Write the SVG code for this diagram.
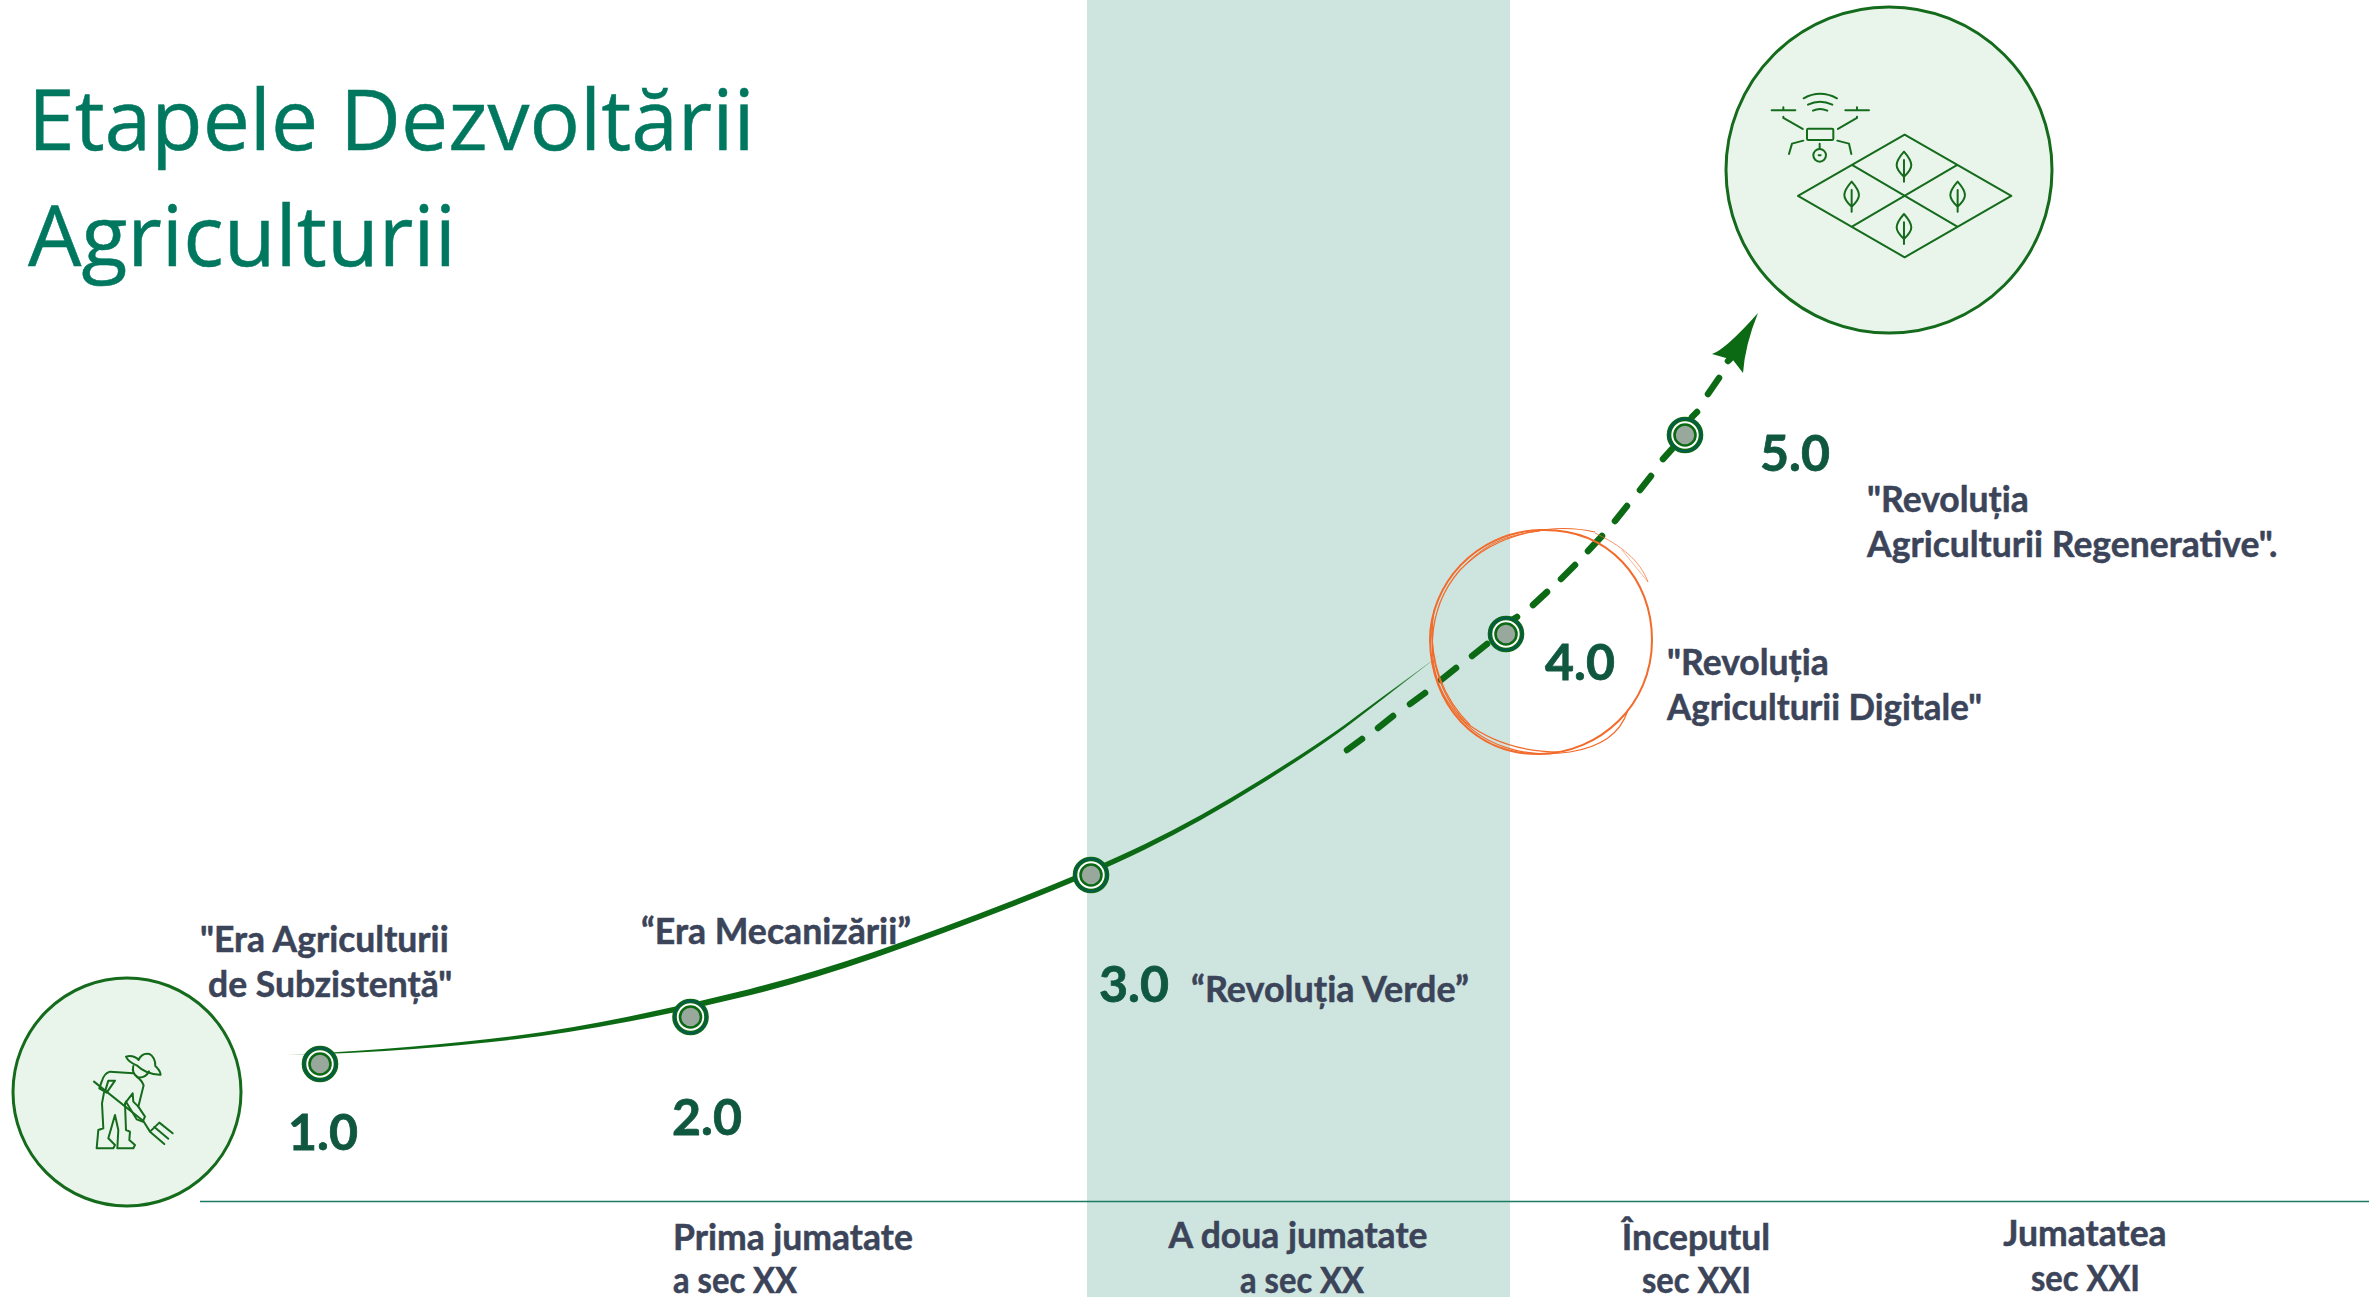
<svg xmlns="http://www.w3.org/2000/svg" width="2369" height="1297" viewBox="0 0 2369 1297">
<style>
.title{font-family:"Open Sans","Noto Sans",sans-serif;font-size:84px;fill:#00775f;stroke:#00775f;stroke-width:.5}
.lab{font-family:"Lato","Noto Sans",sans-serif;font-weight:700;font-size:35.500px;fill:#3b4459;stroke:#3b4459;stroke-width:.5}
.num{font-family:"Lato","Noto Sans",sans-serif;font-weight:700;font-size:50px;fill:#10573f;stroke:#10573f;stroke-width:.8}
.ic{fill:none;stroke:#156b1c;stroke-linecap:round;stroke-linejoin:round;stroke-width:6}
.disc{fill:#e9f5eb;stroke:#156b1c;stroke-width:3}
.o{fill:none;stroke:#f26b2b}
</style>
<defs>
<linearGradient id="fade" gradientUnits="userSpaceOnUse" x1="284" y1="0" x2="1441" y2="0">
<stop offset="0" stop-color="#0c6a14" stop-opacity=".15"/>
<stop offset=".05" stop-color="#0c6a14"/>
<stop offset=".95" stop-color="#0c6a14"/>
<stop offset="1" stop-color="#0c6a14" stop-opacity=".4"/>
</linearGradient>
<g id="dot">
<circle r="16" fill="#fff" stroke="#0c6a14" stroke-width="4.600"/>
<circle r="16" fill="none" stroke="#045a50" stroke-width="1.800"/>
<circle r="10.500" fill="#98a89c" stroke="#0c6a14" stroke-width="2.600"/>
</g>
<path id="leaf" d="M0 -60 Q-22 -35 -22 -20 Q-22 -5 0 15 Q22 -5 22 -20 Q22 -35 0 -60Z M0 -35 V30"/>
</defs>
<rect id="band" x="1087" y="0" width="423" height="1297" fill="#cee4df"/>
<path id="axis" d="M200 1201.500H2369" stroke="#1c7a62" stroke-width="1.500" fill="none"/>
<g id="title"><text class="title" x="28" y="150">Etapele Dezvoltării</text><text class="title" x="28" y="266" textLength="428" lengthAdjust="spacingAndGlyphs">Agriculturii</text></g>

<g id="connectors">
<path fill="url(#fade)" d="M284 1055 Q350 1052 410.500 1046.800 Q471 1041.500 519.500 1035.300 Q568 1029 629 1016.500 Q690 1004 750 988.900 Q810 973.700 875 951.400 Q940 929 1015.500 899.500 Q1091 870 1145.500 843.800 Q1200 817.500 1260 780.300 Q1320 743 1350 720.900 Q1380 698.700 1441 654 Q1380 701.300 1350 724.200 Q1320 747 1260 784.800 Q1200 822.500 1145.500 849.300 Q1091 876 1015.500 905.500 Q940 935 875 957.700 Q810 980.300 750 995.200 Q690 1010 629 1021.500 Q568 1033 519.500 1038.800 Q471 1044.500 410.500 1049.300 Q350 1054 284 1055Z"/>
<path fill="none" stroke="#0c6a14" stroke-width="6.500" stroke-linecap="round" d="M1347 750L1362 739M1378 728L1393 716M1410 704L1425 693M1441 680L1456 668M1472 656L1487 644M1512 620L1517 617M1533 605L1547 592M1561 579L1575 565M1588 551L1602 536M1615 521L1627 506M1640 490L1651 476M1663 459L1672 449M1692 417L1697 412M1708 394L1719 378M1728 361L1732 357"/>
<path d="M1758 313 Q1725 350 1712 354 L1733 360 L1743 373 Q1745 345 1758 313Z" fill="#0c6a14"/>
</g>

<g id="focus-ring">
<path class="o" stroke-width="2" d="M1540 530 C1610 528 1652 580 1652 640 C1652 705 1600 753 1540 754 C1475 755 1431 705 1430 640 C1430 585 1475 532 1540 530Z"/>
<path class="o" stroke-width="1.200" d="M1595 532 C1560 524 1500 528 1460 570 C1425 610 1425 670 1450 705 C1480 750 1530 758 1570 752 C1600 747 1620 735 1628 710"/>
<path class="o" stroke-width="1" opacity=".7" d="M1595 533 C1620 545 1640 560 1648 582"/>
<path class="o" stroke-width="1" opacity=".5" d="M1622 550 L1648 582"/>
<path class="o" stroke-width="1.200" d="M1434 610 C1428 650 1436 690 1465 722 C1495 745 1530 752 1560 752"/>
<path class="o" stroke-width="1.200" d="M1432 620 C1430 660 1440 695 1470 725"/>
<path class="o" stroke-width="1" d="M1465 565 C1490 540 1510 535 1540 531"/>
</g>

<g id="node-1"><use href="#dot" x="320" y="1064"/><text class="num" x="288" y="1150">1.0</text><text class="lab"><tspan x="200" y="952">"Era Agriculturii</tspan><tspan x="208" y="997">de Subzistență"</tspan></text></g>
<g id="node-2"><use href="#dot" x="690.500" y="1017"/><text class="num" x="672" y="1135">2.0</text><text class="lab" x="641" y="944" textLength="270" lengthAdjust="spacingAndGlyphs">“Era Mecanizării”</text></g>
<g id="node-3"><use href="#dot" x="1091" y="875"/><text class="num" x="1099" y="1002">3.0</text><text class="lab" x="1191" y="1002" textLength="278" lengthAdjust="spacingAndGlyphs">“Revoluția Verde”</text></g>
<g id="node-4"><use href="#dot" x="1506" y="634"/><text class="num" x="1545" y="680">4.0</text><text class="lab" x="1667" y="675">"Revoluția</text><text class="lab" x="1667" y="720" textLength="315" lengthAdjust="spacingAndGlyphs">Agriculturii Digitale"</text></g>
<g id="node-5"><use href="#dot" x="1685" y="435"/><text class="num" x="1760" y="471">5.0</text><text class="lab"><tspan x="1867" y="512">"Revoluția</tspan><tspan x="1867" y="557">Agriculturii Regenerative".</tspan></text></g>

<g id="axis-labels">
<text class="lab" x="673" y="1250">Prima jumatate</text><text class="lab" x="673" y="1292.500" textLength="124" lengthAdjust="spacingAndGlyphs">a sec XX</text>
<text class="lab" text-anchor="middle" x="1298" y="1248">A doua jumatate</text><text class="lab" x="1240" y="1292.500" textLength="124" lengthAdjust="spacingAndGlyphs">a sec XX</text>
<text class="lab" text-anchor="middle" x="1696" y="1250">Începutul</text><text class="lab" x="1642" y="1292.500" textLength="109" lengthAdjust="spacingAndGlyphs">sec XXI</text>
<text class="lab" text-anchor="middle" x="2085" y="1246">Jumatatea</text><text class="lab" x="2031" y="1291" textLength="109" lengthAdjust="spacingAndGlyphs">sec XXI</text>
</g>

<g id="farmer-circle">
<circle class="disc" cx="127" cy="1092" r="114"/>
<g transform="translate(0 960) scale(.3333)" class="ic">
<path d="M378 290 Q400 284 416 300 Q425 278 448 282 Q466 292 466 318 Q480 330 482 344 Q440 345 410 316 Q385 306 378 290Z"/>
<path d="M400 318 Q394 340 414 352 Q438 354 447 334"/>
<path d="M410 350 Q425 360 431 376 L415 440 L435 470 L428 485 L410 478 L378 425"/>
<path d="M400 340 L330 335 Q312 340 305 365 L298 385 L320 398 L345 362 H325 L315 395"/>
<path d="M282 365 L430 483"/>
<path d="M312 398 L306 430 L310 505 L295 510 L290 565 H340 L345 555 L325 535 L345 465 L355 510 L352 565 H400 L405 555 L388 540 L390 515 L378 510 L375 430 L398 400 L400 425 L415 440"/>
<path d="M430 483 L450 515 L478 488 L518 520 M450 515 L493 552 M463 501 L505 536"/>
</g>
</g>

<g id="drone-circle">
<circle class="disc" cx="1889" cy="170" r="163"/>
<g transform="translate(1700 0) scale(.3333)" class="ic">
<path d="M294 588 L614 404 L934 588 L614 772Z M456 495 L772 680 M772 495 L456 680"/>
<use href="#leaf" x="612" y="515"/><use href="#leaf" x="455" y="605"/><use href="#leaf" x="773" y="605"/><use href="#leaf" x="612" y="702"/>
<rect x="321" y="386" width="79" height="34" rx="4"/>
<path d="M215 331 H286 M250 322 V331 M436 331 H507 M471 322 V331 M250 350 V354 L308 387 M471 350 V354 L414 387 M310 422 L276 431 L267 462 M412 422 L447 431 L454 462 M359 431 V447"/>
<circle cx="359" cy="466" r="19"/><path d="M356 466 H362"/>
<path d="M311 295 Q360 268 411 295 M324 314 Q360 296 397 314 M339 332 Q360 322 382 332"/>
</g>
</g>
</svg>
